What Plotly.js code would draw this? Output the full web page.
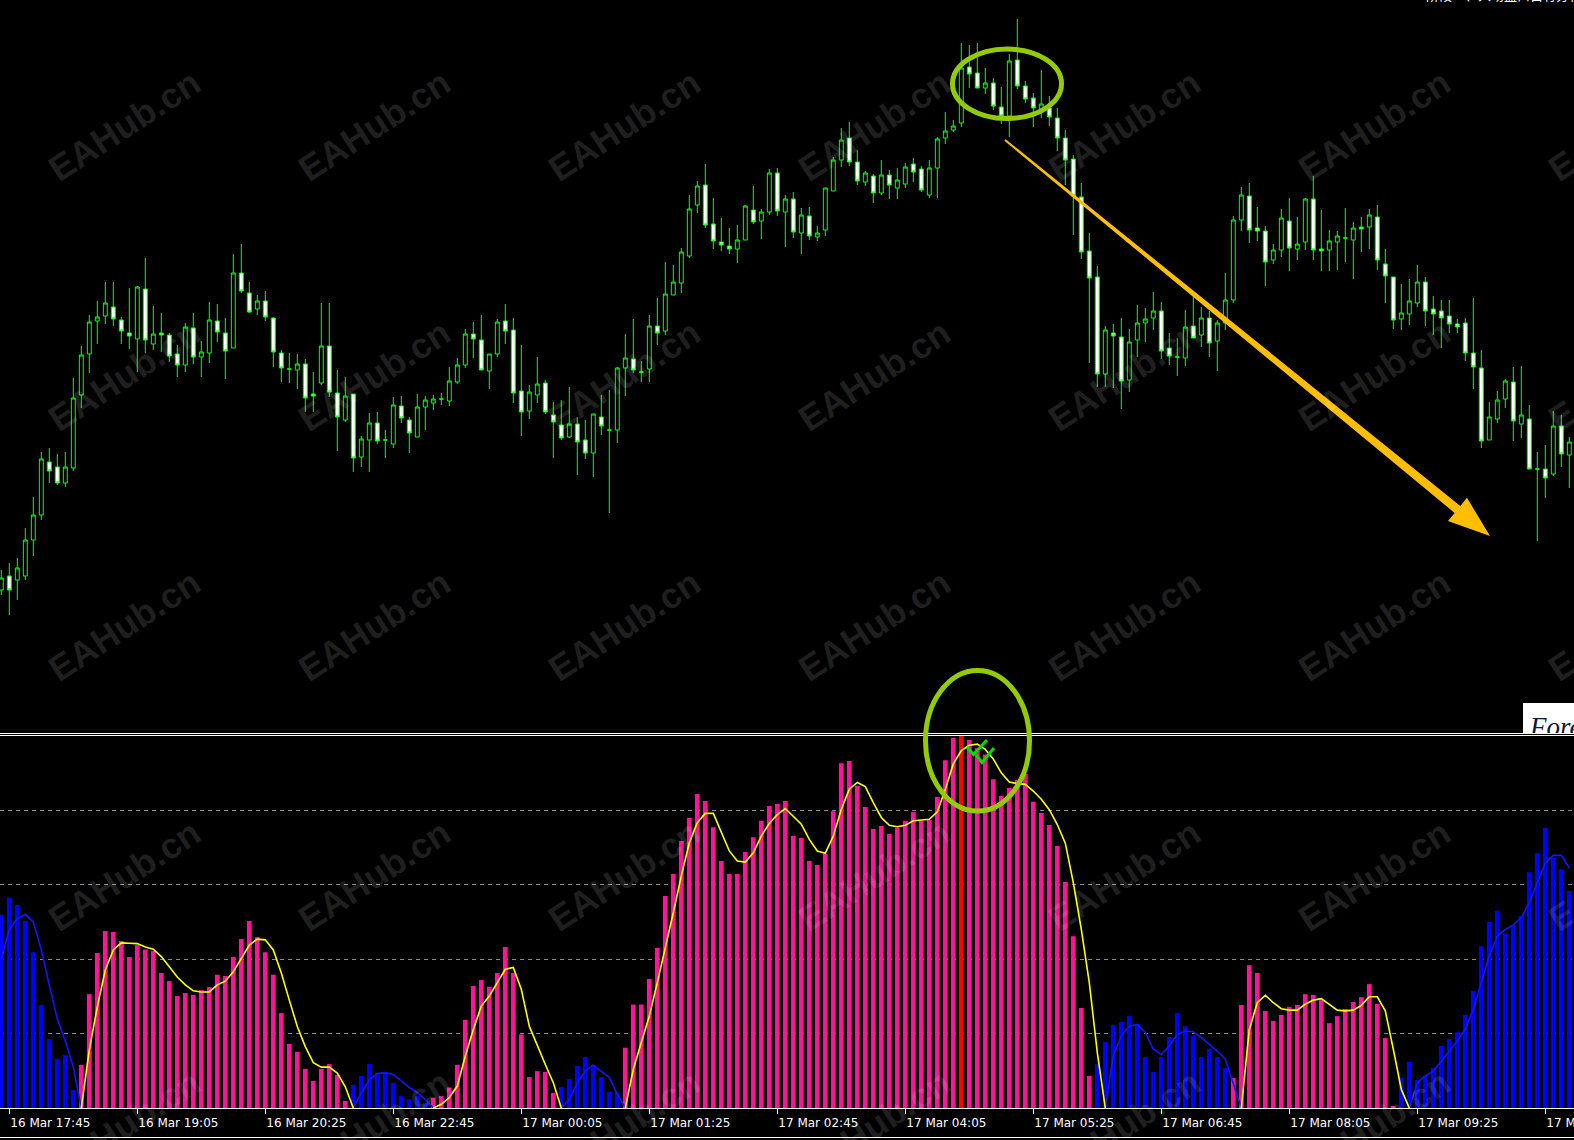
<!DOCTYPE html>
<html><head><meta charset="utf-8">
<script src="https://cdn.plot.ly/plotly-3.0.1.min.js"></script>
<style>html,body{margin:0;padding:0;background:#000;overflow:hidden}#chart{width:1574px;height:1140px}</style>
</head><body><div id="chart"></div>
<script>
// ---------------- DATA ----------------
const candleOpen = [
110,124,120,124,160,185,238,233,217,232, 305,346,379,384,393,380,367,361,411,356,
367,365,346,335,372,343,347,379,367,352, 427,407,391,399,382,347,331,330,336,306,
317,354,307,280,306,243,260,277,260,256, 294,280,263,293,297,301,299,318,335,366,
360,329,346,379,370,309,289,305,317,285, 275,263,276,260,247,283,270,270,332,341,
328,331,374,369,405,417,444,495,515,476, 458,454,451,460,490,479,488,527,488,501,
467,484,463,470,509,540,562,538,518,524, 507,525,512,516,536,531,505,532,562,570,
577,633,627,612,617,593,584,640,614,602, 591,592,582,562,541,503,449,423,326,367,
363,320,360,377,382,389,352,343,342,374, 365,382,359,377,400,480,504,472,469,440,
450,479,451,458,501,451,450,458,462,460, 473,473,483,436,423,381,386,397,418,391,
389,384,376,377,347,332,260,281,301,318, 276,281,231,231,226,274,245];
const candleHigh = [
130,137,142,172,203,248,252,246,248,322, 354,385,399,418,418,383,412,414,442,394,
387,367,355,377,387,359,398,396,382,446, 456,418,405,409,383,350,347,346,341,328,
397,397,330,323,306,264,287,288,270,303, 304,283,306,304,305,307,333,342,371,378,
385,346,381,396,382,355,315,343,320,298, 300,313,283,280,286,305,310,333,366,381,
339,385,402,438,435,452,505,519,536,502, 482,472,475,495,514,491,531,532,505,508,
492,493,474,512,543,572,578,550,529,526, 540,530,532,537,542,534,540,563,588,580,
657,655,657,632,622,613,646,681,619,607, 630,604,592,570,545,517,467,434,374,376,
382,371,395,392,408,398,367,362,390,405, 393,389,380,427,484,513,517,493,474,456,
491,502,483,502,524,490,470,469,492,478, 483,491,495,451,423,416,421,435,423,404,
400,400,381,382,402,350,298,309,321,333, 334,295,248,255,289,285,263];
const candleLow = [
105,85,100,120,144,180,217,215,213,229, 292,327,356,376,374,356,351,328,347,350,
348,338,323,328,336,323,337,358,321,352, 407,387,385,379,333,318,317,311,288,288,
315,303,249,278,228,233,228,256,242,252, 277,247,263,270,290,295,294,316,332,342,
330,311,343,356,297,264,281,297,286,242, 260,262,225,241,223,265,187,257,304,327,
318,318,355,365,405,407,442,487,472,451, 449,446,437,460,476,461,485,484,453,462,
446,460,459,464,509,533,534,515,514,497, 505,501,501,512,518,508,502,502,556,568,
573,612,612,606,590,576,563,611,597,573, 582,574,549,515,465,441,337,313,313,312,
291,308,343,358,370,341,335,324,334,362, 353,343,329,370,397,469,457,459,414,436,
443,429,440,450,440,429,429,430,438,421, 448,451,430,397,371,370,375,393,374,365,
352,367,367,339,311,252,260,277,292,259, 262,231,159,202,224,233,212];
const candleClose = [
122,110,132,160,185,241,229,217,233,302, 345,378,383,397,381,369,364,413,360,366,
365,344,335,373,343,348,380,368,349,427, 409,388,399,383,348,332,331,336,302,304,
354,308,283,304,242,261,277,259,260,295, 282,267,293,300,301,301,319,335,366,361,
330,346,378,369,307,288,308,316,288,278, 262,276,258,247,286,274,270,332,342,330,
328,374,367,406,418,448,491,514,475,459, 455,451,460,494,478,488,527,489,501,468,
485,464,467,512,540,560,538,519,527,507, 525,515,520,533,528,510,532,561,569,574,
632,626,612,617,594,584,639,614,601,592, 596,583,562,540,504,448,422,326,370,364,
319,358,377,381,389,349,344,343,373,362, 382,357,377,400,480,505,470,469,438,450,
482,452,456,501,450,449,459,464,462,472, 471,485,440,424,380,387,399,418,389,386,
382,376,373,347,333,259,283,300,319,279, 285,231,231,222,274,246,258];

// oscillator histogram (0..100)
const histValues = [
51.9,56.5,54.6,50.3,41.9,27.7,18.5,13.2,14.2,4.8, 11.6,30.6,41.7,47.6,47.3,44.9,40.6,43.8,42.6,42.2,
36.3,34.1,30.1,30.9,30.4,31.7,32.5,35.8,35.5,40.6, 45.4,50.3,46.0,41.9,35.8,25.5,17.2,15.1,10.5,7.3,
10.5,11.8,8.9,1.9,6.2,8.6,11.8,9.4,9.6,6.8, 3.2,2.3,3.2,1.4,2.8,3.2,5.5,11.6,23.7,32.8,
34.4,32.6,36.3,43.3,36.3,19.8,8.3,9.9,9.7,4.0, 5.6,7.8,11.3,13.7,11.6,8.3,4.3,4.1,16.2,27.8,
27.8,34.7,43.0,57.0,62.9,71.8,78.0,84.4,82.5,75.5, 66.4,62.9,62.9,68.8,72.8,77.2,81.2,81.7,82.5,73.1,
72.6,66.4,65.3,68.3,79.8,92.7,93.3,86.6,80.9,75.0, 75.8,73.7,75.3,77.2,79.6,77.2,77.4,83.6,93.5,99.5,
100,98.9,96.7,95.0,88.4,83.9,86.0,88.2,89.8,82.3, 79.3,76.1,70.4,60.8,46.2,26.9,8.6,11.8,17.7,22.3,
23.1,24.7,22.6,13.7,9.7,13.7,19.1,25.5,22.0,19.4, 13.7,15.9,13.7,10.8,8.1,27.7,38.4,36.3,26.1,23.4,
25.0,27.2,27.7,30.6,30.4,29.0,22.8,24.7,26.6,28.5, 29.8,33.3,28.0,18.8,0.5,8.1,12.4,7.5,8.6,10.8,
16.7,18.5,20.4,25.0,31.5,43.5,50.0,53.0,47.0,49.2, 51.6,63.4,68.5,75.3,67.2,64.2,58.3];

// histogram colour runs: [phase, number of bars]
const histPhaseRuns = [['down',10],['up',34],['down',10],['up',16],['down',8],['up',42],['peak',1],['up',16],['down',17],['up',21],['down',22]];

const yellowLine = [
null,null,null,null,null,null,null,null,null,null, 0,15.6,27.2,37.1,42.5,44.4,44.3,44.2,43.3,42.7,
40.7,38.0,35.2,33.1,31.5,31.2,31.2,33.1,34.1,36.6, 40.3,43.8,45.4,45.2,42.5,36.3,29.0,21.9,16.5,12.2,
11.0,11.0,9.4,5.7,0,null,null,null,null,null, null,null,null,null,0,1.0,2.8,5.9,14.0,21.1,
27.4,30.1,33.7,37.3,37.8,31.9,22.0,16.7,11.7,6.8, 0,null,null,null,null,null,null,null,0,10.4,
17.6,24.7,33.7,42.7,52.5,62.4,71.3,76.7,79.2,79.2, 74.0,69.1,66.4,66.1,68.6,73.1,76.5,78.9,80.5,78.5,
76.3,72.2,69.1,68.5,73.1,80.3,85.7,87.5,86.4,82.1, 78.1,76.0,75.6,76.0,77.2,77.4,77.6,79.6,85.7,92.5,
96.1,97.5,97.8,96.4,93.8,90.1,87.6,87.2,87.0,85.2, 83.0,80.2,76.2,71.2,60.6,48.0,33.7,14.9,0,null,
null,null,null,null,null,null,null,null,null,null, null,null,null,null,null,0,21.1,28.3,30.3,28.3,
26.7,26.3,26.3,27.9,29.0,29.4,27.9,26.3,26.1,26.3, 27.6,29.9,29.9,26.1,15.8,5.0,0,null,null,null,
null,null,null,null,null,null,null,null,null,null, null,null,null,null,null,null,null];

const blueLine = [
40,48,51,52,50,42.5,33,24,18,11, 0,null,null,null,null,null,null,null,null,null,
null,null,null,null,null,null,null,null,null,null, null,null,null,null,null,null,null,null,null,null,
null,null,null,null,0,4,7.5,9.3,9.5,9.0, 7.3,5.5,4.1,2.3,0,null,null,null,null,null,
null,null,null,null,null,null,null,null,null,null, 0,2.3,6.8,9.9,11.5,9.9,8.2,3.7,0,null,
null,null,null,null,null,null,null,null,null,null, null,null,null,null,null,null,null,null,null,null,
null,null,null,null,null,null,null,null,null,null, null,null,null,null,null,null,null,null,null,null,
null,null,null,null,null,null,null,null,null,null, null,null,null,null,null,null,null,null,0,14.0,
19.4,22.0,22.5,20.3,15.8,14.4,16.7,19.8,20.7,20.5, 18.9,17.1,15.3,13.1,6.8,0,null,null,null,null,
null,null,null,null,null,null,null,null,null,null, null,null,null,null,null,null,0,6.8,8.6,9.9,
12.6,15.3,18.0,21.1,26.5,33.7,40.9,46.2,48.0,49.2, 51.2,55.2,60.6,65.9,67.9,67.9,64.6];

const tickIndex = [1,17,33,49,65,81,97,113,129,145,161,177,193];
const tickLabels = ['16 Mar 17:45','16 Mar 19:05','16 Mar 20:25','16 Mar 22:45','17 Mar 00:05','17 Mar 01:25',
  '17 Mar 02:45','17 Mar 04:05','17 Mar 05:25','17 Mar 06:45','17 Mar 08:05','17 Mar 09:25','17 Mar 10:45'];
const oscLevels = [20,40,60,80];
const watermarkText = 'EAHub.cn';
const foreText = 'Fore';
const cornerText = '阶段二、入场盘口自有分析';

// ---------------- LAYOUT HELPERS ----------------
const W = 1574, H = 1140;
const px = x => x / W, py = y => 1 - y / H;
const barIndex = candleOpen.map((_, i) => i);
const xRange = [(0 - 1.3) / 8, (W - 1.3) / 8];

const phaseColor = {down:'#0000FF', up:'#FF1493', peak:'#FF0000'};
const histColors = [];
histPhaseRuns.forEach(([ph, n]) => { for (let k = 0; k < n; k++) histColors.push(phaseColor[ph]); });

const traces = [
  {type:'candlestick', x:barIndex, open:candleOpen, high:candleHigh, low:candleLow, close:candleClose,
   xaxis:'x', yaxis:'y', whiskerwidth:0,
   increasing:{line:{color:'#00FF00', width:1}, fillcolor:'#000000'},
   decreasing:{line:{color:'#00FF00', width:1}, fillcolor:'#FFFFFF'}, hoverinfo:'skip'},
  {type:'scatter', mode:'text', x:[(1530 - 1.3) / 8], y:[-29], text:[foreText], textposition:'middle right',
   textfont:{family:'Liberation Serif', size:27, style:'italic', color:'#14143c'}, cliponaxis:true,
   xaxis:'x', yaxis:'y', hoverinfo:'skip'},
  {type:'bar', x:barIndex, y:histValues, marker:{color:histColors, line:{width:0}}, xaxis:'x2', yaxis:'y2', hoverinfo:'skip'},
  {type:'scatter', mode:'lines', x:barIndex, y:blueLine, line:{color:'#1414FF', width:1.6}, connectgaps:false, xaxis:'x2', yaxis:'y2', hoverinfo:'skip'},
  {type:'scatter', mode:'lines', x:barIndex, y:yellowLine, line:{color:'#FFFF00', width:1.6}, connectgaps:false, xaxis:'x2', yaxis:'y2', hoverinfo:'skip'}
];

// arrow polygon
const aS = [1005, 140], aT = [1490, 536];
const adx = aT[0] - aS[0], ady = aT[1] - aS[1], alen = Math.hypot(adx, ady);
const ux = adx / alen, uy = ady / alen, nx = -uy, ny = ux;
const hL = 42, hW = 15, w0 = 1, w1 = 4.5;
const bx = aT[0] - hL * ux, by = aT[1] - hL * uy;
const aPts = [[aS[0] + w0 * nx, aS[1] + w0 * ny], [bx + w1 * nx, by + w1 * ny], [bx + hW * nx, by + hW * ny], aT,
  [bx - hW * nx, by - hW * ny], [bx - w1 * nx, by - w1 * ny], [aS[0] - w0 * nx, aS[1] - w0 * ny]];
const pathOf = (pts, close) => 'M ' + pts.map(p => px(p[0]).toFixed(5) + ',' + py(p[1]).toFixed(5)).join(' L ') + (close ? ' Z' : '');

const shapes = [
  {type:'rect', xref:'x', yref:'y', x0:(1523 - 1.3) / 8, x1:205, y0:-3, y1:-40, fillcolor:'#FFFFFF', line:{width:0}, layer:'below'},
  {type:'line', xref:'paper', yref:'paper', x0:0, x1:1, y0:py(733.5), y1:py(733.5), line:{color:'#FFFFFF', width:1}},
  {type:'line', xref:'paper', yref:'paper', x0:0, x1:1, y0:py(735.5), y1:py(735.5), line:{color:'#FFFFFF', width:1}},
  {type:'line', xref:'paper', yref:'paper', x0:0, x1:1, y0:py(1137.5), y1:py(1137.5), line:{color:'#FFFFFF', width:1}},
  {type:'path', xref:'paper', yref:'paper', path:pathOf(aPts, true), fillcolor:'#FFBE00', line:{width:0}, layer:'above'},
  {type:'circle', xref:'paper', yref:'paper', x0:px(952.5), x1:px(1061.5), y0:py(118.5), y1:py(49), line:{color:'#92CC00', width:5}, layer:'above'},
  {type:'circle', xref:'paper', yref:'paper', x0:px(925.5), x1:px(1029.5), y0:py(811), y1:py(670.5), line:{color:'#92CC00', width:5}, layer:'above'},
  {type:'path', xref:'paper', yref:'paper', path:pathOf([[967, 747], [973.5, 754.5], [987, 740]], false), line:{color:'#00DD00', width:3}, layer:'above'},
  {type:'path', xref:'paper', yref:'paper', path:pathOf([[976, 755], [982, 762.5], [994, 748]], false), line:{color:'#00DD00', width:3}, layer:'above'}
];

const annotations = [];
const wmX = [124, 374, 624, 874, 1124, 1374, 1624], wmY = [125, 375, 625, 875, 1125];
wmY.forEach(cy => wmX.forEach(cx => annotations.push({
  xref:'paper', yref:'paper', x:px(cx), y:py(cy), xanchor:'center', yanchor:'middle', showarrow:false,
  text:watermarkText, textangle:-33, font:{family:'Liberation Sans', size:36, weight:700, color:'rgba(255,255,255,0.12)'}
})));
annotations.push({xref:'paper', yref:'paper', x:px(1424), y:py(6), xanchor:'left', yanchor:'bottom', showarrow:false,
  text:cornerText, font:{family:'Noto Sans CJK SC', size:13, color:'#FFFFFF'}});

const layout = {
  width:W, height:H, margin:{l:0, r:0, t:0, b:0, pad:0},
  paper_bgcolor:'#000000', plot_bgcolor:'#000000', showlegend:false,
  bargap:0.4,
  xaxis:{domain:[0, 1], range:xRange, anchor:'y', visible:false, rangeslider:{visible:false}, fixedrange:true},
  yaxis:{domain:[py(733), 1], range:[-33, 700], anchor:'x', visible:false, fixedrange:true},
  xaxis2:{domain:[0, 1], range:xRange, anchor:'y2', showgrid:false, zeroline:false, showline:true, linecolor:'#FFFFFF', linewidth:1,
    ticks:'outside', ticklen:5, tickwidth:1, tickcolor:'#FFFFFF', tickmode:'array', tickvals:tickIndex, ticktext:tickLabels,
    ticklabelposition:'outside right', ticklabeloverflow:'allow', ticklabelstandoff:4,
    tickfont:{family:'DejaVu Sans', size:12, color:'#FFFFFF'}, fixedrange:true},
  yaxis2:{domain:[py(1108), py(736)], range:[0, 100], anchor:'x2', tickmode:'array', tickvals:oscLevels, showticklabels:false,
    ticks:'', showgrid:true, gridcolor:'#8a8a8a', gridwidth:1, griddash:'4px,4px', zeroline:false, showline:false, fixedrange:true},
  shapes:shapes, annotations:annotations
};

Plotly.newPlot('chart', traces, layout, {staticPlot:true, displayModeBar:false});
</script>
</body></html>
